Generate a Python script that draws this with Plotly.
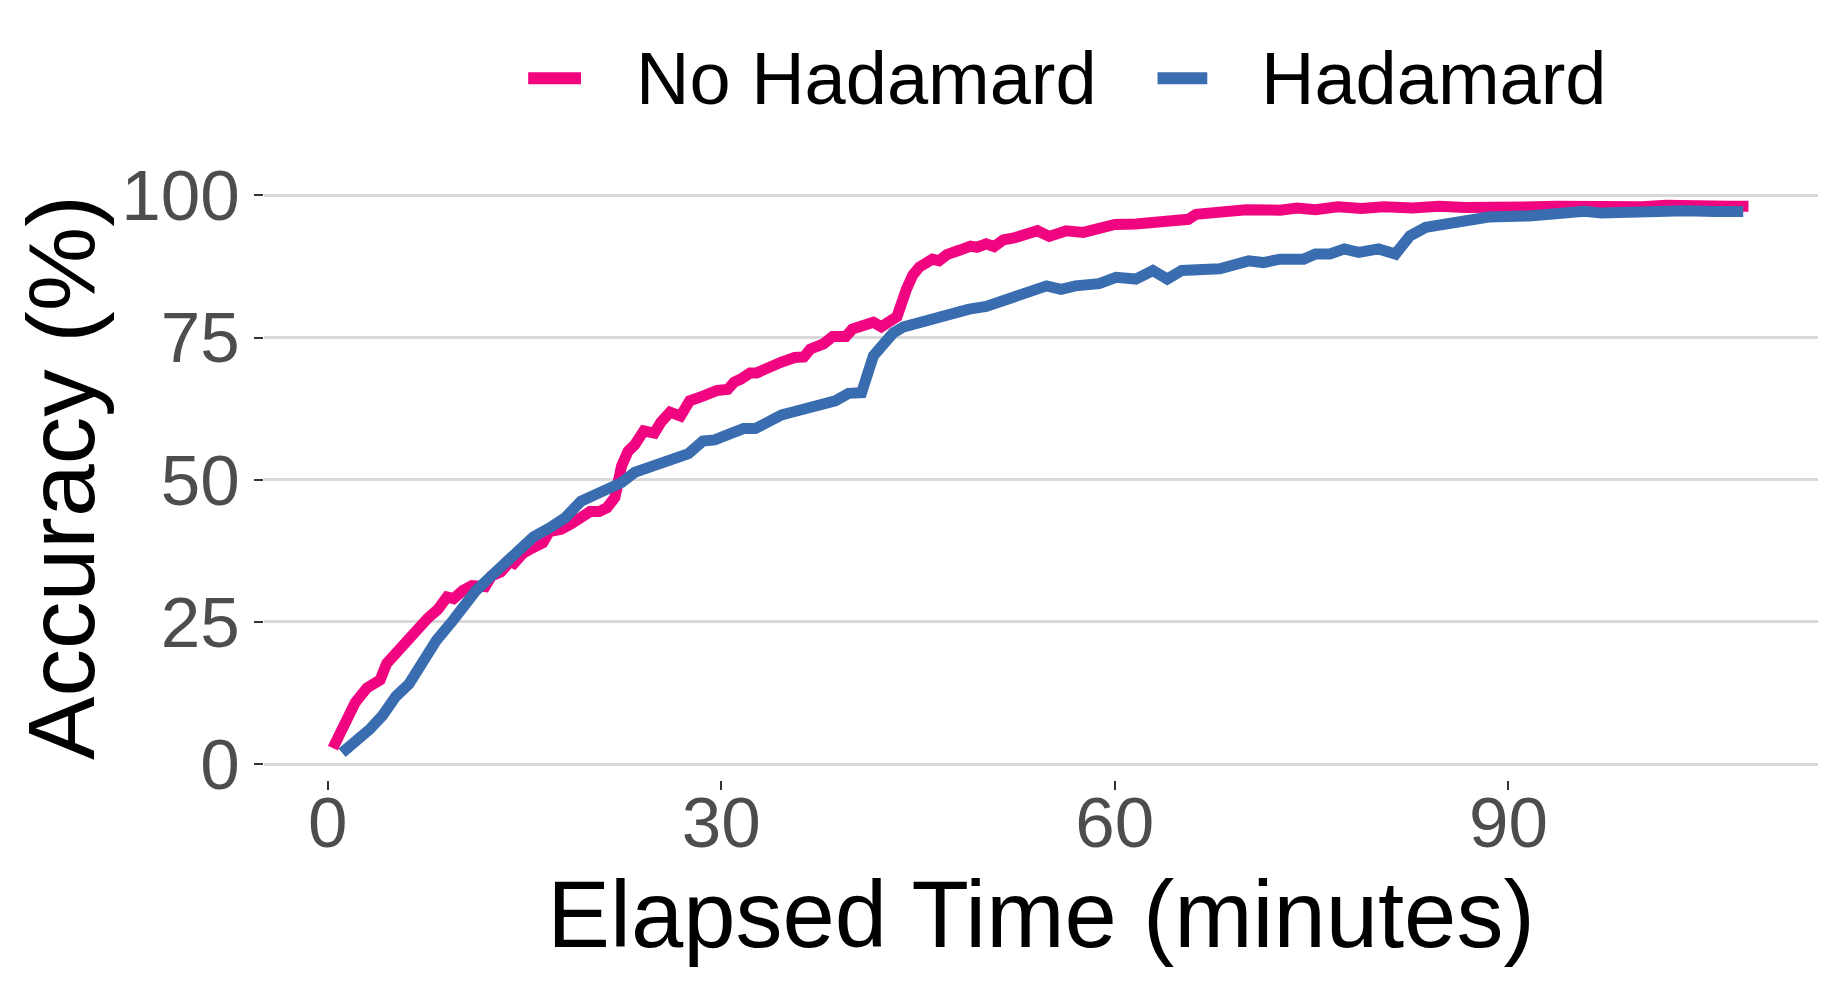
import plotly.graph_objects as go

# No Hadamard (pink)
pink_t = [0.4, 1.5, 2.1, 3.0, 4.0, 4.5, 5.7, 6.2, 7.1, 7.7, 8.4, 9.1, 9.6, 10.3, 11.0, 12.0,
          12.5, 13.2, 13.9, 14.2, 14.9, 15.6, 16.4, 16.9, 17.8, 18.6, 20.0, 20.7, 21.3, 21.9,
          22.1, 22.4, 22.9, 23.4, 24.1, 24.9, 25.4, 26.1, 26.9, 27.6, 28.6, 29.7, 30.5, 31.0,
          31.5, 32.2, 32.7, 33.9, 34.6, 35.6, 36.3, 36.8, 37.8, 38.5, 39.5, 40.0, 40.9, 41.6,
          42.2, 42.9, 43.4, 44.1, 44.6, 45.1, 45.8, 46.1, 46.6, 47.2, 48.2, 49.0, 49.5, 50.2,
          50.8, 51.5, 52.4, 53.3, 54.1, 55.0, 56.3, 57.6, 58.7, 60.0, 61.6, 62.9, 63.8, 65.6,
          66.2, 68.2, 69.1, 70.0, 72.6, 73.9, 75.3, 77.0, 78.8, 80.5, 82.7, 84.7, 86.7, 88.5,
          90.2, 92.0, 93.7, 96.0, 98.5, 100.2, 102.0, 103.6, 105.2, 106.8, 108.3]
pink_acc = [2.8, 8.2, 10.8, 13.4, 14.8, 17.7, 21.0, 22.5, 24.3, 25.8, 27.2, 29.4, 29.1, 30.5, 31.4, 31.2,
            33.1, 33.8, 35.6, 35.3, 37.1, 38.0, 38.9, 40.9, 41.3, 42.3, 44.4, 44.4, 45.1, 46.9,
            50.2, 52.4, 55.0, 56.1, 58.6, 58.2, 60.1, 61.9, 61.2, 63.9, 64.7, 65.7, 65.9, 67.2,
            67.7, 68.8, 68.8, 70.3, 70.7, 71.5, 71.6, 73.0, 73.9, 75.2, 75.2, 76.5, 76.9, 77.7,
            76.9, 78.0, 78.7, 83.4, 86.0, 87.4, 88.2, 88.8, 88.5, 89.6, 90.4, 91.1, 90.9, 91.5,
            91.0, 92.2, 92.6, 93.2, 93.8, 92.8, 93.8, 93.5, 94.3, 94.9, 95.0, 95.2, 95.5, 95.8,
            96.7, 97.0, 97.2, 97.5, 97.4, 97.8, 97.5, 98.0, 97.7, 98.0, 97.8, 98.1, 97.9, 97.8,
            98.1, 98.0, 98.1, 98.0, 98.1, 98.0, 98.3, 98.1, 98.2, 98.1, 98.1]

# Hadamard (blue)
blue_t = [1.1, 2.1, 3.2, 4.2, 5.2, 6.2, 7.2, 8.3, 9.6, 11.3, 12.3, 13.0, 13.9, 14.9, 15.7, 16.9,
          18.1, 19.3, 21.0, 22.4, 23.4, 24.7, 26.4, 27.5, 28.6, 29.5, 30.7, 31.7, 32.6, 33.6,
          34.6, 35.6, 36.6, 37.8, 38.7, 39.7, 40.7, 41.6, 42.4, 43.1, 43.9, 44.9, 45.8, 46.8,
          47.8, 48.9, 50.2, 51.1, 52.0, 53.1, 54.8, 55.9, 57.0, 58.8, 60.1, 61.6, 62.9, 64.0,
          65.1, 68.0, 70.2, 71.3, 72.6, 74.4, 75.3, 76.4, 77.5, 78.6, 80.1, 81.4, 82.5, 83.7,
          85.0, 85.9, 87.2, 88.5, 91.6, 93.8, 95.8, 97.1, 99.3, 100.2, 101.3, 103.5, 105.7, 107.9]
blue_acc = [2.0, 3.9, 6.1, 8.6, 11.9, 14.1, 17.7, 21.8, 25.4, 30.5, 32.7, 34.2, 36.4, 38.5, 40.0, 41.5,
            43.3, 46.2, 47.9, 49.5, 51.3, 52.3, 53.9, 54.6, 56.8, 57.0, 58.1, 59.0, 59.0, 60.3,
            61.4, 62.0, 62.5, 63.5, 63.9, 65.2, 65.3, 71.8, 74.3, 75.8, 76.9, 77.6, 78.0, 78.7,
            79.2, 80.0, 80.5, 81.2, 82.1, 82.6, 84.1, 83.5, 84.1, 84.5, 85.6, 85.3, 86.8, 85.3,
            86.8, 87.1, 88.5, 88.2, 88.8, 88.8, 89.7, 89.7, 90.6, 90.0, 90.6, 89.7, 92.9, 94.4,
            95.0, 95.3, 95.9, 96.2, 96.4, 96.9, 97.2, 96.9, 97.2, 96.9, 97.2, 97.3, 97.2, 97.2]

x_ticks = [0, 30, 60, 90]
y_ticks = [0, 25, 50, 75, 100]

series = [('No Hadamard', pink_t, pink_acc, '#F0047F'),
          ('Hadamard', blue_t, blue_acc, '#3A6CB0')]

fig = go.Figure()
for name, t, acc, col in series:
    fig.add_trace(go.Scatter(x=t, y=acc, name=name, mode='lines',
                             line=dict(color=col, width=11), showlegend=False))

# legend drawn by hand (ggplot-style spacing: key, gap, label)
key_x = [(0.170, 0.204, 0.238), (0.575, 0.607, 0.640)]
leg_y = 1.160
for (name, _, _, col), (x0, x1, xt) in zip(series, key_x):
    fig.add_shape(type='line', xref='paper', yref='paper', x0=x0, x1=x1, y0=leg_y, y1=leg_y,
                  line=dict(color=col, width=12))
    fig.add_annotation(text=name, xref='paper', yref='paper', x=xt, y=leg_y,
                       xanchor='left', yanchor='middle', showarrow=False,
                       font=dict(size=74, color='black'))

fig.update_layout(
    width=1841,
    height=991,
    margin=dict(l=256, r=31, t=167, b=219),
    plot_bgcolor='white',
    paper_bgcolor='white',
    font=dict(family='Liberation Sans, Arial, sans-serif', color='black'),
    showlegend=False,
)

fig.update_xaxes(
    range=[-4.85, 113.6],
    tickvals=x_ticks,
    showgrid=False,
    zeroline=False,
    showline=False,
    ticks='outside',
    ticklen=9,
    tickwidth=2,
    tickcolor='#333333',
    ticklabelstandoff=-28,
    tickfont=dict(size=71, color='#4D4D4D'),
    title=dict(text='Elapsed Time (minutes)', font=dict(size=94, color='black'), standoff=8),
)

fig.update_yaxes(
    range=[-2.8, 103.6],
    tickvals=y_ticks,
    showgrid=True,
    gridcolor='#D9D9D9',
    gridwidth=3,
    zeroline=False,
    showline=False,
    ticks='outside',
    ticklen=9,
    tickwidth=2,
    tickcolor='#333333',
    tickfont=dict(size=71, color='#4D4D4D'),
    title=dict(text='Accuracy (%)', font=dict(size=95, color='black'), standoff=12),
)

fig.write_html("out.html")
